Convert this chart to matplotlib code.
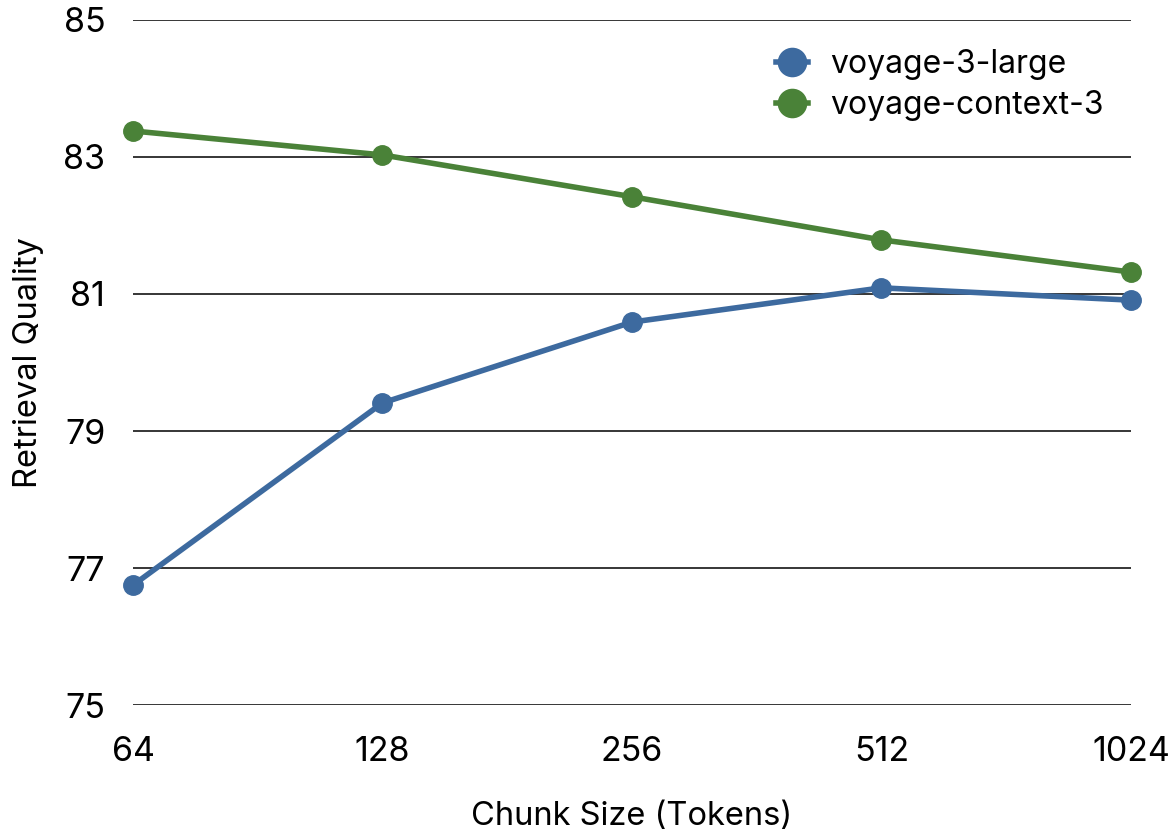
import matplotlib
matplotlib.use("Agg")
import matplotlib.pyplot as plt

# Chunk sizes (tokens) and retrieval quality for each model
chunk_sizes = [64, 128, 256, 512, 1024]
voyage_3_large = [76.75, 79.41, 80.59, 81.09, 80.91]
voyage_context_3 = [83.38, 83.03, 82.42, 81.79, 81.32]
y_ticks = [75, 77, 79, 81, 83, 85]

plt.rcParams['font.family'] = ['Inter', 'DejaVu Sans']

fig = plt.figure(figsize=(11.76, 8.4), dpi=100)
ax = fig.add_axes([0.1131, 0.1607, 0.8486, 0.8155])

ax.plot(chunk_sizes, voyage_3_large, color="#3d6a9f", linewidth=4.0, marker="o",
        markersize=14, label="voyage-3-large", clip_on=False, zorder=3)
ax.plot(chunk_sizes, voyage_context_3, color="#4a8238", linewidth=4.0, marker="o",
        markersize=14, label="voyage-context-3", clip_on=False, zorder=3)

ax.set_xscale("log", base=2)
ax.set_xlim(64, 1024)
ax.set_xticks(chunk_sizes)
ax.set_xticklabels([str(c) for c in chunk_sizes])
ax.minorticks_off()
ax.set_ylim(75, 85)
ax.set_yticks(y_ticks)
ax.set_yticklabels([str(t) for t in y_ticks])

ax.grid(axis="y", color="black", linewidth=1.1)
ax.set_axisbelow(True)
for s in ax.spines.values():
    s.set_visible(False)
ax.tick_params(axis="x", length=0, pad=22, labelsize=24.5)
ax.tick_params(axis="y", length=0, pad=20, labelsize=24.5)

ax.set_xlabel("Chunk Size (Tokens)", fontsize=23.5, labelpad=24)
ax.set_ylabel("Retrieval Quality", fontsize=23.5, labelpad=14)

ax.legend(loc="upper right", bbox_to_anchor=(0.995, 0.99), frameon=False, fontsize=23,
          handlelength=1.0, handletextpad=0.7, borderaxespad=0.3, labelspacing=0.3,
          markerscale=1.45)

fig.savefig("out.png", dpi=100)
